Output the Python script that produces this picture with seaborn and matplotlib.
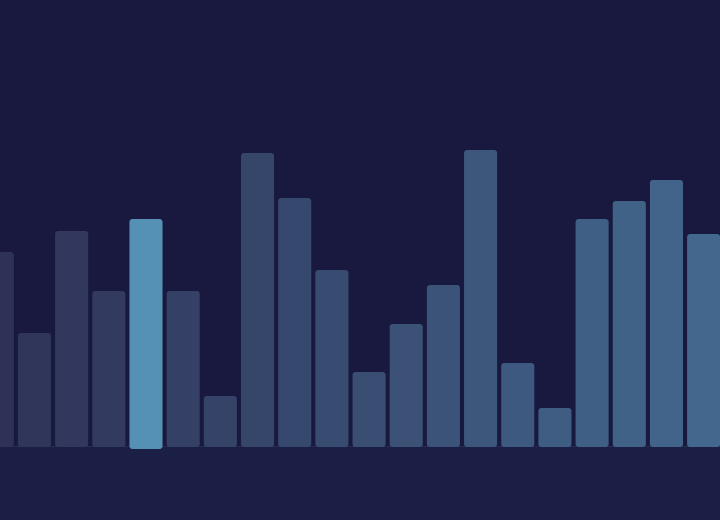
import matplotlib
matplotlib.use("Agg")
import matplotlib.pyplot as plt
from matplotlib.patches import FancyBboxPatch
import seaborn as sns
import pandas as pd

# ── Data ──────────────────────────────────────────────────────────────────────
positions = [f"b{i:02d}" for i in range(20)]
values = [65, 38, 72, 52, 76, 52, 17, 98, 83, 59,
          25, 41, 54, 99, 28, 13, 76, 82, 89, 71]
highlight = "b04"

df = pd.DataFrame({"pos": positions, "value": values})

# ── Style ─────────────────────────────────────────────────────────────────────
bg_top = "#19193f"
bg_bottom = "#1b1f46"
palette = sns.blend_palette(["#2f3257", "#43678d"], len(positions))
palette = [("#5590b5" if p == highlight else c) for p, c in zip(positions, palette)]

sns.set_style("white")
fig = plt.figure(figsize=(7.2, 5.2), dpi=100)
fig.patch.set_facecolor(bg_bottom)
ax = fig.add_axes([0, 73 / 520, 1, 447 / 520])
ax.set_facecolor(bg_top)

sns.barplot(data=df, x="pos", y="value", hue="pos", palette=palette,
            width=0.89, legend=False, ax=ax, saturation=1)

# round the bar corners
px_x = 720 / (19.44 - 0.073)
px_y = 447 / 149
for bar in list(ax.patches):
    x, y = bar.get_x(), bar.get_y()
    w, h = bar.get_width(), bar.get_height()
    color = bar.get_facecolor()
    is_hi = abs(x + w / 2 - positions.index(highlight)) < 0.01
    if is_hi:
        y -= 2 / px_y
        h += 2 / px_y
    bar.remove()
    ax.add_patch(FancyBboxPatch((x, y), w, h,
                                boxstyle=f"round,pad=0,rounding_size={3 / px_x}",
                                mutation_aspect=px_x / px_y,
                                facecolor=color, edgecolor="none",
                                clip_on=False, zorder=3))

ax.axhline(0, color="#2c3058", lw=1.2, zorder=2)

ax.set_xlim(0.073, 19.44)
ax.set_ylim(0, 149)
ax.set_xticks([])
ax.set_yticks([])
ax.set_xlabel("")
ax.set_ylabel("")
sns.despine(ax=ax, left=True, bottom=True)

fig.savefig("out.png", dpi=100, facecolor=fig.get_facecolor())
